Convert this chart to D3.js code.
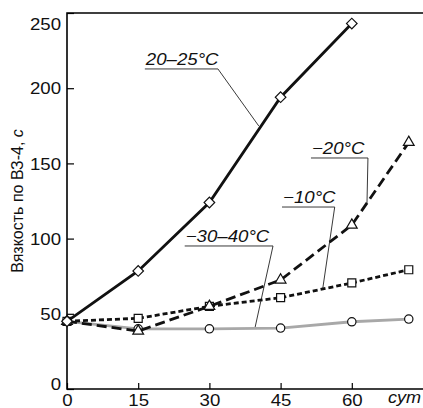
<!DOCTYPE html>
<html>
<head>
    <meta charset="utf-8">
    <title>Вязкость по ВЗ-4</title>
    <style>
        body { margin: 0; background: #fff; }
        text { font-family: "Liberation Sans", Arial, sans-serif; }
    </style>
</head>
<body>
<script src="https://cdnjs.cloudflare.com/ajax/libs/d3/7.8.5/d3.min.js"></script>
<script>

// days of storage
var days = [0, 15, 30, 45, 60, 72];
var xTicks = [0, 15, 30, 45, 60];
var yTicks = [0, 50, 100, 150, 200, 250];

// viscosity, s
var warm   = [45, 78.5, 124, 194, 243];            // 20–25°C
var minus20 = [45, 38.5, 55, 72.5, 109, 164];      // −20°C
var minus10 = [45, 47, 55, 60.7, 70.5, 79.3];      // −10°C
var minus30 = [45, 40, 40, 40.5, 44.7, 46.5];      // −30–40°C

// callout labels: text, underline start/end (days, value), leader end
var labels = [
    { text: "20–25°C",   x0: 16.4, x1: 31.8, y: 212.8, ex: 40.4, ey: 174.9 },
    { text: "−20°C",     x0: 51.4, x1: 63.4, y: 153.6, ex: 63.2, ey: 123.7 },
    { text: "−10°C",     x0: 45.3, x1: 56.4, y: 121,   ex: 53.9, ey: 67.2 },
    { text: "−30–40°C",  x0: 24.8, x1: 43.4, y: 95.1,  ex: 39.6, ey: 40.6 }
];

var W = 423, H = 408;
var margin = { top: 13, right: 0, bottom: 19, left: 67 };
var stretch = 1.13;   // the original type is wider than Liberation Sans

var x = d3.scaleLinear().domain([0, 75]).range([margin.left, W - margin.right]);
var y = d3.scaleLinear().domain([0, 250]).range([H - margin.bottom, margin.top]);

var svg = d3.select("body").append("svg")
    .attr("width", W)
    .attr("height", H);

// frame: left, bottom, top
svg.append("path")
    .attr("d", "M" + W + "," + y(250) + "H" + x(0) + "V" + y(0) + "H" + W)
    .attr("fill", "none")
    .attr("stroke", "#000")
    .attr("stroke-width", 1.6);

var yAxis = svg.append("g")
    .attr("transform", "translate(" + x(0) + ",0)")
    .call(d3.axisLeft(y).tickValues(yTicks).tickSizeInner(-7).tickSizeOuter(0).tickPadding(6));
yAxis.select(".domain").remove();
yAxis.selectAll("line").attr("stroke-width", 1.2);
yAxis.selectAll("text")
    .style("font-size", "16.5px")
    .attr("fill", "#111")
    .attr("x", -6 / stretch)
    .attr("transform", "scale(" + stretch + ",1)")
    .attr("dy", function(d) { return d === 250 ? "1.0em" : d === 0 ? "0.0em" : "0.34em"; });

var xAxis = svg.append("g")
    .attr("transform", "translate(0," + y(0) + ")")
    .call(d3.axisBottom(x).tickValues(xTicks).tickSizeInner(-6).tickSizeOuter(0).tickPadding(5));
xAxis.select(".domain").remove();
xAxis.selectAll("line").attr("stroke-width", 1.2);
xAxis.selectAll("text")
    .style("font-size", "16.5px")
    .attr("fill", "#111")
    .attr("transform", "scale(" + stretch + ",1)");

svg.append("text")
    .attr("transform", "translate(421," + (y(0) + 14) + ") scale(" + stretch + ",1)")
    .attr("text-anchor", "end")
    .style("font-size", "16px")
    .style("font-style", "italic")
    .attr("fill", "#111")
    .text("сут");

// y axis title
var yt = svg.append("text")
    .attr("transform", "translate(23," + ((y(0) + y(250)) / 2) + ") rotate(-90)")
    .attr("text-anchor", "middle")
    .style("font-size", "16px")
    .attr("fill", "#111");
yt.append("tspan").text("Вязкость по ВЗ-4, ");
yt.append("tspan").style("font-style", "italic").text("с");

// callouts
labels.forEach(function(l) {
    svg.append("path")
        .attr("d", "M" + x(l.x0) + "," + y(l.y) + "H" + x(l.x1) + "L" + x(l.ex) + "," + y(l.ey))
        .attr("fill", "none")
        .attr("stroke", "#222")
        .attr("stroke-width", 0.9);
    svg.append("text")
        .attr("transform", "translate(" + (x(l.x0) + 1) + "," + (y(l.y) - 4) + ") scale(" + stretch + ",1)")
        .style("font-size", "16.5px")
        .style("font-style", "italic")
        .attr("fill", "#111")
        .text(l.text);
});

var line = d3.line()
    .x(function(d, i) { return x(days[i]); })
    .y(function(d) { return y(d); });

function series(vals, color, dash, symbol, size, rotate) {
    svg.append("path")
        .datum(vals)
        .attr("d", line)
        .attr("fill", "none")
        .attr("stroke", color)
        .attr("stroke-width", 2.8)
        .attr("stroke-dasharray", dash);
    svg.append("g").selectAll("path")
        .data(vals)
        .join("path")
        .attr("d", d3.symbol().type(symbol).size(size))
        .attr("transform", function(d, i) {
            return "translate(" + x(days[i]) + "," + y(d) + ") rotate(" + rotate + ")";
        })
        .attr("fill", "#fff")
        .attr("stroke", "#111")
        .attr("stroke-width", 1.2);
}

series(minus30, "#a8a8a8", null, d3.symbolCircle, 55, 0);
series(minus10, "#111", "5,3", d3.symbolSquare, 64, 0);
series(minus20, "#111", "10,5", d3.symbolTriangle, 50, 0);
series(warm, "#111", null, d3.symbolSquare, 56, 45);

</script>
</body>
</html>
